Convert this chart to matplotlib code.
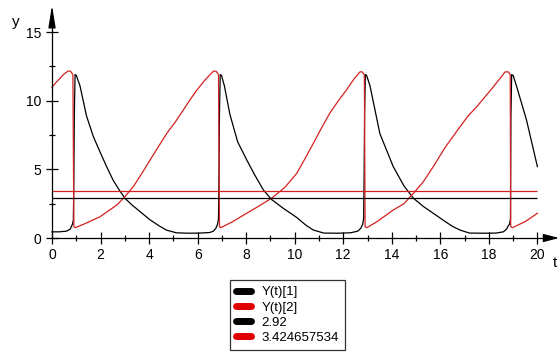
import matplotlib
matplotlib.use('Agg')
import matplotlib.pyplot as plt
from matplotlib.lines import Line2D
from matplotlib.ticker import MultipleLocator

plt.rcParams['font.family'] = ['Liberation Sans', 'DejaVu Sans']

# Y(t)[1] - black curve
t1 = [0, 0.3, 0.6, 0.75, 0.84, 0.88, 0.90, 0.92, 0.95, 1.0, 1.15, 1.42, 1.7, 1.97,
      2.25, 2.52, 2.77, 3.0, 3.3, 3.61, 4.02, 4.4, 4.71, 5.12, 5.6, 6.1, 6.5, 6.65,
      6.75, 6.82, 6.86, 6.88, 6.9, 6.93, 6.98, 7.1, 7.33, 7.65, 8.02, 8.35, 8.71,
      9.05, 9.5, 10.08, 10.45, 10.77, 11.2, 11.8, 12.3, 12.6, 12.72, 12.8, 12.84,
      12.86, 12.88, 12.91, 12.96, 13.1, 13.51, 14.06, 14.5, 14.89, 15.3, 15.71,
      16.2, 16.5, 16.81, 17.2, 17.8, 18.3, 18.6, 18.73, 18.8, 18.85, 18.89, 18.91,
      18.94, 19.0, 19.15, 19.55, 20.0]
y1 = [0.45, 0.45, 0.5, 0.65, 1.0, 1.3, 4.5, 9.0, 11.9, 11.85, 11.1, 8.9, 7.4, 6.3,
      5.2, 4.2, 3.5, 2.9, 2.4, 1.95, 1.35, 0.9, 0.58, 0.38, 0.35, 0.36, 0.4, 0.5,
      0.7, 1.0, 1.4, 4.5, 9.0, 11.9, 11.85, 11.1, 9.0, 7.0, 5.7, 4.6, 3.5,
      2.8, 2.2, 1.5, 0.95, 0.58, 0.36, 0.35, 0.38, 0.5, 0.7, 1.0, 1.4,
      4.5, 9.0, 11.9, 11.85, 11.1, 7.6, 5.2, 3.8, 2.9, 2.3, 1.8,
      1.2, 0.85, 0.58, 0.36, 0.35, 0.36, 0.45, 0.65, 0.9, 1.0, 1.4, 9.0,
      11.9, 11.85, 11.0, 8.6, 5.2]

# Y(t)[2] - red curve
t2 = [0, 0.15, 0.33, 0.5, 0.67, 0.76, 0.82, 0.86, 0.9, 0.95, 1.3, 1.98, 2.3, 2.67,
      3.0, 3.35, 3.7, 4.04, 4.4, 4.73, 5.1, 5.41, 5.7, 5.97, 6.3, 6.65, 6.76, 6.82,
      6.86, 6.9, 6.95, 7.4, 8.02, 8.5, 9.05, 9.6, 10.08, 10.4, 10.77, 11.1, 11.45,
      11.8, 12.14, 12.45, 12.69, 12.78, 12.84, 12.87, 12.9, 12.97, 13.4, 14.06,
      14.5, 14.89, 15.3, 15.71, 16.2, 16.81, 17.15, 17.5, 17.85, 18.18, 18.45,
      18.67, 18.8, 18.86, 18.88, 18.9, 18.97, 19.5, 20.0]
y2 = [10.98, 11.3, 11.63, 11.95, 12.16, 12.15, 12.0, 11.9, 0.82, 0.75, 1.0, 1.55, 1.95, 2.4,
      3.0, 3.74, 4.7, 5.68, 6.7, 7.62, 8.5, 9.32, 10.1, 10.78, 11.5, 12.15, 12.15, 12.0,
      11.9, 0.82, 0.75, 1.15, 1.8, 2.3, 2.9, 3.7, 4.7, 5.7, 6.9, 8.0, 9.1,
      10.0, 10.8, 11.6, 12.1, 12.1, 11.95, 11.9, 0.82, 0.75, 1.2, 2.04,
      2.5, 3.25, 4.1, 5.2, 6.6, 8.1, 8.9, 9.56, 10.3, 11.0, 11.6,
      12.1, 12.1, 11.95, 11.9, 0.82, 0.75, 1.2, 1.8]

# constant levels
level_labels = ['2.92', '3.424657534']
levels = [2.92, 3.424657534]
t_span = [0, 20]

series_labels = ['Y(t)[1]', 'Y(t)[2]'] + level_labels
colors = ['black', '#d42020', 'black', '#d42020']

fig = plt.figure(figsize=(5.59, 3.6), dpi=100)
ax = fig.add_axes([0.0716, 0.3194, 0.9284, 0.6694])

ax.plot(t1, y1, color=colors[0], lw=0.9)
ax.plot(t2, y2, color=colors[1], lw=0.9)
for lvl, c in zip(levels, colors[2:]):
    ax.hlines(lvl, t_span[0], t_span[1], color=c, lw=0.9)

ax.set_xlim(-0.494, 20.89)
ax.set_ylim(-0.51, 17.04)

# axes crossing at the origin, Maple style
for s in ['top', 'right']:
    ax.spines[s].set_visible(False)
ax.spines['left'].set_position(('data', 0))
ax.spines['bottom'].set_position(('data', 0))
ax.spines['left'].set_bounds(0, 16.0)
ax.spines['bottom'].set_bounds(0, 20.4)
for s in ['left', 'bottom']:
    ax.spines[s].set_linewidth(0.9)

ax.annotate('', xy=(0, 16.95), xytext=(0, 15.5), annotation_clip=False,
            arrowprops=dict(arrowstyle='-|>,head_length=1.35,head_width=0.22',
                            color='black', lw=0.9, shrinkA=0, shrinkB=0))
ax.annotate('', xy=(20.89, 0), xytext=(20.3, 0), annotation_clip=False,
            arrowprops=dict(arrowstyle='-|>,head_length=0.95,head_width=0.25',
                            color='black', lw=0.9, shrinkA=0, shrinkB=0))

ax.set_xticks(range(0, 21, 2))
ax.set_yticks([0, 5, 10, 15])
ax.xaxis.set_minor_locator(MultipleLocator(1))
ax.yaxis.set_minor_locator(MultipleLocator(2.5))
ax.tick_params(which='major', direction='inout', length=9, width=0.9,
               labelsize=10, pad=3)
ax.tick_params(which='minor', direction='inout', length=5, width=0.9)

fig.text(16 / 559, 1 - 22 / 360, 'y', ha='center', va='center', fontsize=11)
fig.text(555 / 559, 1 - 263 / 360, 't', ha='center', va='center', fontsize=11)

handles = [Line2D([], [], color=c, lw=5, solid_capstyle='round') for c in
           ['black', '#e00000', 'black', '#e00000']]
leg = fig.legend(handles, series_labels, loc='center',
                 bbox_to_anchor=(287.5 / 559, 1 - 315 / 360),
                 frameon=True, fancybox=False, edgecolor='black', fontsize=9.5,
                 handlelength=1.1, handletextpad=0.8, labelspacing=0.22,
                 borderpad=0.45, borderaxespad=0)
leg.get_frame().set_linewidth(0.9)

fig.savefig('out.png', dpi=100)
